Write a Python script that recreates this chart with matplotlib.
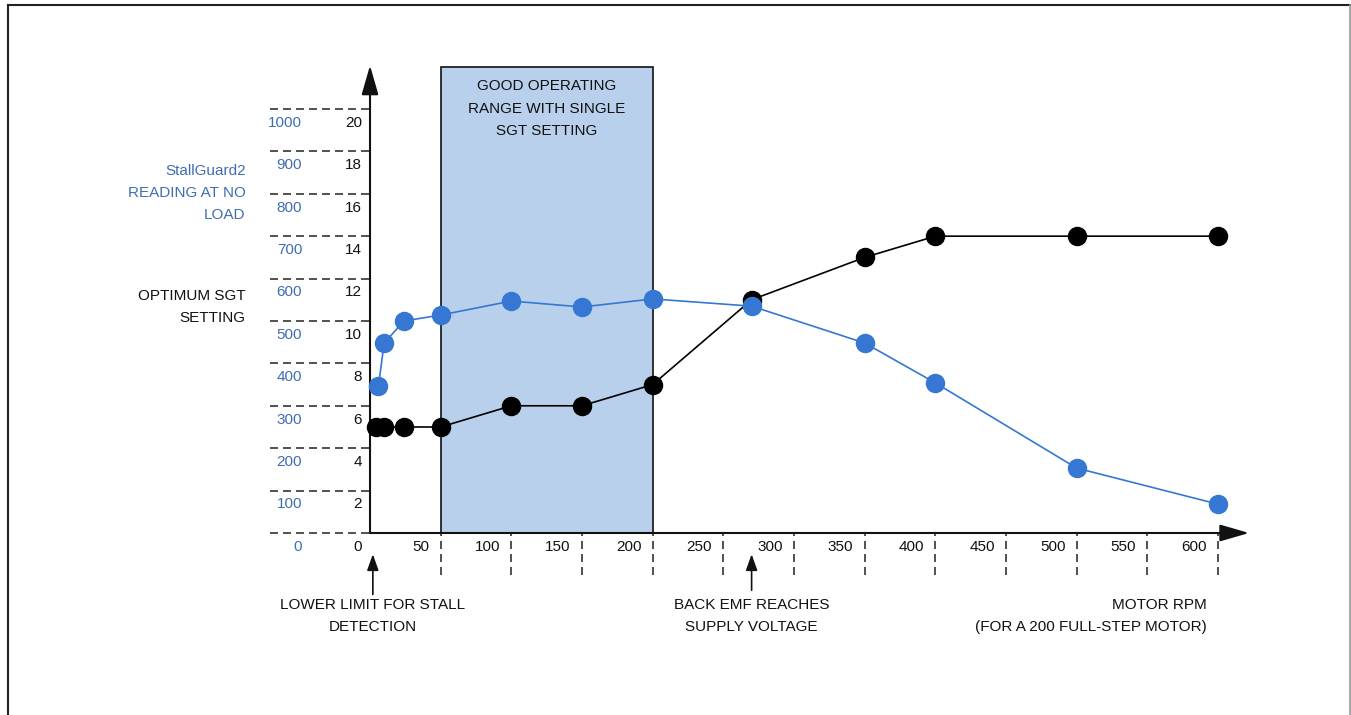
import matplotlib.pyplot as plt
from matplotlib.patches import Rectangle
from matplotlib import font_manager

# -------------------------
# Data
# -------------------------

rpm_sgt = [4, 10, 24, 50, 100, 150, 200, 270, 350, 400, 500, 600]
sgt_setting = [5, 5, 5, 5, 6, 6, 7, 11, 13, 14, 14, 14]

rpm_sg2 = [6, 10, 24, 50, 100, 150, 200, 270, 350, 400, 500, 600]
sg2_reading = [347, 448, 500, 514, 547, 533, 552, 535, 448, 354, 153, 68]

sgt_ticks = [0, 2, 4, 6, 8, 10, 12, 14, 16, 18, 20]
sg2_ticks = [0, 100, 200, 300, 400, 500, 600, 700, 800, 900, 1000]
rpm_ticks = [50, 100, 150, 200, 250, 300, 350, 400, 450, 500, 550, 600]

good_range = (50, 200)
sg2_per_sgt = 50  # 1000 on the StallGuard2 scale lines up with 20 SGT

# -------------------------
# Style
# -------------------------

names = {f.name for f in font_manager.fontManager.ttflist}
if "Liberation Sans Narrow" in names:
    plt.rcParams["font.family"] = ["Liberation Sans Narrow", "DejaVu Sans"]
    fs = 13
else:
    plt.rcParams["font.family"] = ["Liberation Sans", "DejaVu Sans"]
    fs = 11

BLACK = "#111111"
BLUE = "#3577D2"
BLUE_TXT = "#3F6DB3"
SHADE = "#B9D0EC"
DASH = (0, (4.8, 3))
LS = 1.75

fig = plt.figure(figsize=(13.51, 7.15), dpi=100)
ax = fig.add_axes([0, 0, 1, 1])
ax.set_xlim(-261.8, 694.1)
ax.set_ylim(-8.585, 25.14)
ax.axis("off")

# outer frame
fig.add_artist(plt.Line2D([8 / 1351, 8 / 1351], [0, 1 - 5 / 715], color="#222222", lw=1.5))
fig.add_artist(plt.Line2D([8 / 1351, 1350 / 1351], [1 - 5 / 715, 1 - 5 / 715], color="#222222", lw=1.5))
fig.add_artist(plt.Line2D([1350 / 1351, 1350 / 1351], [0, 1 - 5 / 715], color="#999999", lw=1.2))

# good operating range
ax.add_patch(Rectangle((good_range[0], 0), good_range[1] - good_range[0], 22,
                       facecolor=SHADE, edgecolor=BLACK, lw=1.2, zorder=1))
ax.text(sum(good_range) / 2, 21.4, "GOOD OPERATING\nRANGE WITH SINGLE\nSGT SETTING",
        ha="center", va="top", fontsize=fs, color=BLACK, linespacing=LS)

# dashed grid stubs and tick labels
ax.hlines(sgt_ticks, -71, 0, colors="#333333", linestyles=DASH, lw=1.2, zorder=2)
ax.vlines(rpm_ticks, -2, 0, colors="#333333", linestyles=DASH, lw=1.2, zorder=2)
for s, g in zip(sgt_ticks, sg2_ticks):
    ax.text(-5.5, s - 0.65, str(s), ha="right", va="center", fontsize=fs, color=BLACK)
    ax.text(-48, s - 0.65, str(g), ha="right", va="center", fontsize=fs, color=BLUE_TXT)
for r in rpm_ticks:
    ax.text(r - 8, -0.65, str(r), ha="right", va="center", fontsize=fs, color=BLACK)

# axes with arrow heads
head = dict(arrowstyle="-|>,head_length=0.9,head_width=0.26", mutation_scale=20,
            color=BLACK, lw=1.5, shrinkA=0, shrinkB=0)
ax.annotate("", xy=(0, 22.05), xytext=(0, 0), arrowprops=head, zorder=3)
ax.annotate("", xy=(622, 0), xytext=(0, 0), arrowprops=head, zorder=3)

# data
ax.plot(rpm_sgt, sgt_setting, "-o", color="black", lw=1.2, ms=13, zorder=4)
ax.plot(rpm_sg2, [v / sg2_per_sgt for v in sg2_reading], "-o", color=BLUE, lw=1.2, ms=13, zorder=5)

# axis titles
ax.text(-88, 16.04, "StallGuard2\nREADING AT NO\nLOAD", ha="right", va="center",
        fontsize=fs, color=BLUE_TXT, linespacing=LS)
ax.text(-88, 10.66, "OPTIMUM SGT\nSETTING", ha="right", va="center",
        fontsize=fs, color=BLACK, linespacing=LS)

# annotations below the axis
small = dict(arrowstyle="-|>,head_length=0.7,head_width=0.25", mutation_scale=14,
             color=BLACK, lw=1.2, shrinkA=0, shrinkB=0)
ax.annotate("", xy=(2, -1.0), xytext=(2, -2.9), arrowprops=small)
ax.annotate("", xy=(270, -1.0), xytext=(270, -2.7), arrowprops=small)
ax.text(2, -3.05, "LOWER LIMIT FOR STALL\nDETECTION", ha="center", va="top",
        fontsize=fs, color=BLACK, linespacing=LS)
ax.text(270, -3.05, "BACK EMF REACHES\nSUPPLY VOLTAGE", ha="center", va="top",
        fontsize=fs, color=BLACK, linespacing=LS)
ax.text(592, -3.05, "MOTOR RPM\n(FOR A 200 FULL-STEP MOTOR)", ha="right", va="top",
        fontsize=fs, color=BLACK, linespacing=LS, multialignment="right")

fig.savefig("out.png", dpi=100)
